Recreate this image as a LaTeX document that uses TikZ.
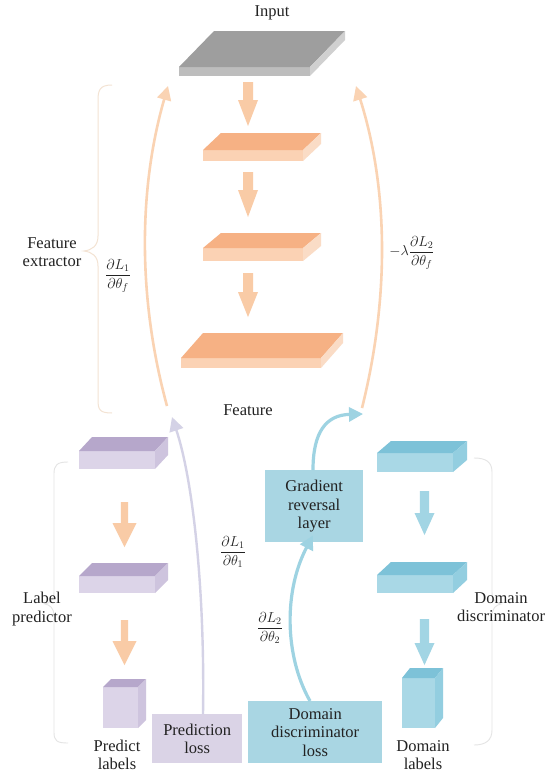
\documentclass[tikz,border=0pt]{standalone}
\usepackage{fontspec}
\setmainfont{Liberation Serif}
\usetikzlibrary{arrows.meta}
\definecolor{gtop}{HTML}{9E9E9E}\definecolor{gfront}{HTML}{BDBDBD}\definecolor{gside}{HTML}{D0D0D0}
\definecolor{otop}{HTML}{F6B184}\definecolor{ofront}{HTML}{FBD2B4}\definecolor{oside}{HTML}{FADCC6}
\definecolor{ptop}{HTML}{B6A7CB}\definecolor{pfront}{HTML}{DCD4E8}\definecolor{pside}{HTML}{CEC4DE}
\definecolor{btop}{HTML}{7DC2D8}\definecolor{bfront}{HTML}{A9D8E6}\definecolor{bside}{HTML}{93CEE0}
\definecolor{oarrow}{HTML}{F9CBA6}\definecolor{barrow}{HTML}{A2D5E4}
\definecolor{olong}{HTML}{FAD3B3}\definecolor{plong}{HTML}{D4D2E6}\definecolor{blong}{HTML}{9ED3E2}
\definecolor{grlfill}{HTML}{A9D6E3}\definecolor{plfill}{HTML}{DAD3E6}
\definecolor{bracebeige}{HTML}{F3E3D3}\definecolor{bracegray}{HTML}{E4E4E4}
\definecolor{txt}{HTML}{222222}
% slab: x1 x2 yfronttop yfrontbottom dx dy colorprefix
\newcommand{\myslab}[7]{%
  \fill[#7front] (#1,#3) rectangle (#2,#4);
  \fill[#7top] (#1,#3) -- ++(#5,-#6) -- ++({#2-#1},0) -- (#2,#3) -- cycle;
  \fill[#7side] (#2,#3) -- ++(#5,-#6) -- ++(0,{#4-#3}) -- (#2,#4) -- cycle;
}
% fat arrow: x y1 y2 stemhalf headhalf headlen color
\newcommand{\fatarrow}[7]{%
  \fill[#7] ({#1-#4},#2) -- ({#1+#4},#2) -- ({#1+#4},{#3-#6}) -- ({#1+#5},{#3-#6})
    -- (#1,#3) -- ({#1-#5},{#3-#6}) -- ({#1-#4},{#3-#6}) -- cycle;
}
\tikzset{
  lbl/.style={font=\fontsize{16.5}{18.5}\selectfont, text=txt, align=center, inner sep=0pt},
  mlbl/.style={font=\fontsize{14.5}{16}\selectfont, text=txt, inner sep=0pt},
  lossbox/.style={inner sep=0pt, anchor=north west},
  longarrow/.style={line width=2.6pt, -{Triangle[length=14pt,width=14pt]}},
}
\begin{document}
\begin{tikzpicture}[x=1pt,y=-1pt]
\useasboundingbox (0,0) rectangle (550,777);
\fill[white] (0,0) rectangle (550,777);

% braces
\draw[bracebeige, line width=1pt] (112,85) .. controls (100,85) and (98,90) .. (98,100)
  -- (98,236) .. controls (98,246) and (92,250) .. (84,251) .. controls (92,252) and (98,256) .. (98,266)
  -- (98,400) .. controls (98,410) and (100,413) .. (112,413);
\draw[bracegray, line width=0.9pt] (68,462) .. controls (57,462) and (54,465) .. (54,474)
  -- (54,592) .. controls (54,600) and (50,603) .. (45,604) .. controls (50,605) and (54,608) .. (54,616)
  -- (54,732) .. controls (54,741) and (57,743) .. (68,743);
\draw[bracegray, line width=0.9pt] (474,458) .. controls (486,458) and (492,462) .. (492,472)
  -- (492,592) .. controls (492,600) and (496,603) .. (501,604) .. controls (496,605) and (492,608) .. (492,616)
  -- (492,730) .. controls (492,740) and (486,745) .. (474,745);

% top column
\myslab{179}{310}{67}{76}{35}{36}{g}
\fatarrow{248}{82}{126}{5}{10}{26}{oarrow}
\myslab{203}{303}{150}{161}{18}{17}{o}
\fatarrow{248}{172}{217}{5}{10}{27}{oarrow}
\myslab{203}{303}{248}{261}{18}{15}{o}
\fatarrow{248}{273}{317}{5}{10}{25}{oarrow}
\myslab{181}{321}{358}{368}{22}{25}{o}

% label predictor column
\myslab{79}{155}{451}{469}{13}{14}{p}
\fatarrow{124.5}{502}{547}{3.7}{12}{24}{oarrow}
\myslab{79}{155}{576}{593}{13}{13}{p}
\fatarrow{124.5}{620}{665}{3.7}{12}{24}{oarrow}
\myslab{103}{138}{687}{728}{8}{8}{p}

% domain column
\myslab{377}{453}{453}{472}{14}{12}{b}
\fatarrow{424.5}{491}{535}{4.6}{10}{22}{barrow}
\myslab{377}{453}{575}{593}{14}{13}{b}
\fatarrow{424.5}{619}{665}{4.6}{10}{22}{barrow}
\myslab{402}{435}{678}{728}{8}{10}{b}

% coordinates for long arrows
\coordinate (fL) at (167,406);
\coordinate (tL) at (168,86);
\coordinate (fR) at (362,408);
\coordinate (tR) at (356,86);
\coordinate (featR) at (363,414);
\coordinate (featL) at (172,417);

% boxes
\node[lossbox, fill=grlfill, minimum width=98pt, minimum height=72pt] (grl) at (265,470) {};
\node[lbl] at (grl.center) {Gradient\\reversal\\layer};
\node[lossbox, fill=plfill, minimum width=90pt, minimum height=49pt] (pl) at (152,714) {};
\node[lbl] at (pl.center) {Prediction\\loss};
\node[lossbox, fill=grlfill, minimum width=134pt, minimum height=62pt] (ddl) at (248,701) {};
\node[lbl] at (ddl.center) {Domain\\discriminator\\loss};

% long arrows
\draw[longarrow, olong] (fL) .. controls (138,300) and (138,190) .. (tL);
\draw[longarrow, olong] (fR) .. controls (389,300) and (389,190) .. (tR);
\draw[longarrow, plong, line width=2.4pt] ([xshift=51pt]pl.north west) .. controls (205,590) and (193,480) .. (featL);
\draw[longarrow, blong, line width=3.2pt] ([xshift=62pt]ddl.north west) .. controls (284,655) and (284,590) .. ([yshift=7pt,xshift=48pt]grl.south west);
\draw[longarrow, blong, line width=3.2pt] ([xshift=48pt]grl.north west) .. controls (313,432) and (326,415) .. (featR);

% labels
\node[lbl] (input) at (272,13) {Input};
\node[lbl] (feature) at (248,410) {Feature};
\node[lbl] (fe) at (52,252) {Feature\\extractor};
\node[lbl] (lp) at (42,609) {Label\\predictor};
\node[lbl] (dd) at (501,607) {Domain\\discriminator};
\node[lbl] (plab) at (117,755) {Predict\\labels};
\node[lbl] (dlab) at (423,755) {Domain\\labels};

\node[mlbl] (g1) at (118,276) {$\displaystyle\frac{\partial L_1}{\partial\theta_f}$};
\node[mlbl] (g2) at (412,253) {$\displaystyle-\lambda\frac{\partial L_2}{\partial\theta_f}$};
\node[mlbl] (g3) at (233,552) {$\displaystyle\frac{\partial L_1}{\partial\theta_1}$};
\node[mlbl] (g4) at (270,628) {$\displaystyle\frac{\partial L_2}{\partial\theta_2}$};
\end{tikzpicture}
\end{document}
